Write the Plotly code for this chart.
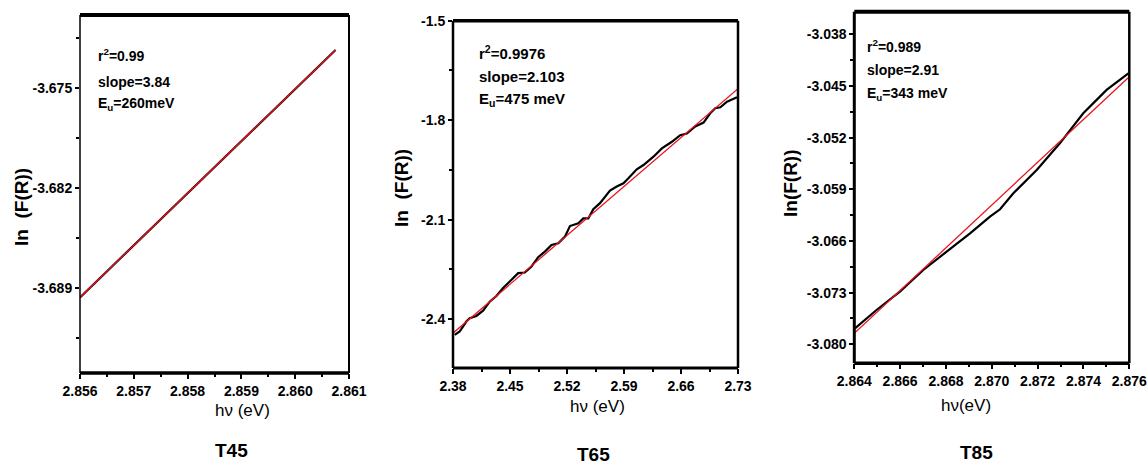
import plotly.graph_objects as go

W, H = 1148, 476

# ---------------- data ----------------
# T45
t45_x = [2.8560, 2.86075]
t45_y = [-3.68968, -3.67236]
t45_fit_x = [2.8560, 2.86075]
t45_fit_y = [-3.68968, -3.67236]

# T65
t65_x = [2.3821, 2.3882, 2.3964, 2.4005, 2.4087, 2.4169, 2.4251, 2.4333, 2.4415, 2.4498,
         2.4600, 2.4682, 2.4764, 2.4846, 2.4928, 2.5010, 2.5093, 2.5175, 2.5236, 2.5339,
         2.5400, 2.5462, 2.5523, 2.5605, 2.5728, 2.5811, 2.5893, 2.5954, 2.6057, 2.6139,
         2.6262, 2.6365, 2.6488, 2.6590, 2.6672, 2.6775, 2.6877, 2.6959, 2.7021, 2.7083,
         2.7165, 2.7288]
t65_y = [-2.447, -2.437, -2.407, -2.397, -2.390, -2.374, -2.347, -2.330, -2.306, -2.286,
         -2.261, -2.259, -2.241, -2.213, -2.196, -2.176, -2.171, -2.151, -2.119, -2.111,
         -2.096, -2.096, -2.068, -2.050, -2.012, -2.000, -1.990, -1.975, -1.948, -1.935,
         -1.910, -1.885, -1.865, -1.845, -1.840, -1.819, -1.807, -1.779, -1.764, -1.761,
         -1.744, -1.731]
t65_fit_x = [2.38, 2.73]
t65_fit_y = [-2.442, -1.705]

# T85
t85_x = [2.86403, 2.86497, 2.86599, 2.86701, 2.86803, 2.86905, 2.86992, 2.87036, 2.87094,
         2.87196, 2.87297, 2.87399, 2.87501, 2.87596]
t85_y = [-3.07783, -3.07535, -3.07286, -3.06993, -3.06744, -3.06496, -3.06270, -3.06171,
         -3.05954, -3.05638, -3.05277, -3.04870, -3.04554, -3.04328]
t85_fit_x = [2.8640, 2.8760]
t85_fit_y = [-3.07851, -3.04374]

# axes ticks
t45_xticks = [2.856, 2.857, 2.858, 2.859, 2.860, 2.861]
t45_yticks = [-3.675, -3.682, -3.689]
t65_xticks = [2.38, 2.45, 2.52, 2.59, 2.66, 2.73]
t65_yticks = [-1.5, -1.8, -2.1, -2.4]
t85_xticks = [2.864, 2.866, 2.868, 2.870, 2.872, 2.874, 2.876]
t85_yticks = [-3.038, -3.045, -3.052, -3.059, -3.066, -3.073, -3.080]

labels = ["T45", "T65", "T85"]
stats = [
    ["r<sup>2</sup>=0.99", "slope=3.84", "E<sub>u</sub>=260meV"],
    ["r<sup>2</sup>=0.9976", "slope=2.103", "E<sub>u</sub>=475 meV"],
    ["r<sup>2</sup>=0.989", "slope=2.91", "E<sub>u</sub>=343 meV"],
]
xtitles = ["hν (eV)", "hν (eV)", "hν(eV)"]
ytitles = ["ln  (F(R))", "ln  (F(R))", "ln(F(R))"]

# ---------------- layout helpers ----------------
def px(x):
    return x / W

def py(y):
    return 1 - y / H

FONT = "Liberation Sans, Arial, sans-serif"

fig = go.Figure()

panels = [
    dict(xs=t45_x, ys=t45_y, fx=t45_fit_x, fy=t45_fit_y,
         frame=(80, 349, 15, 373), xr=[2.856, 2.861], yr=[-3.69497, -3.66991],
         xt=t45_xticks, yt=t45_yticks, xfmt="%.3f", yfmt="%.3f",
         xminor=0.0005, x0=2.856, yminor=0.0035, y0=-3.675,
         border=dict(top=4, bottom=3.5, left=1.5, right=2),
         stat_pos=(96, [55, 82, 104]), stat_size=14,
         ytitle_pos=(21, 207), xtitle_pos=(213, 422), title_pos=(213, 463)),
    dict(xs=t65_x, ys=t65_y, fx=t65_fit_x, fy=t65_fit_y,
         frame=(453, 738, 20.7, 368), xr=[2.38, 2.73], yr=[-2.547, -1.5],
         xt=t65_xticks, yt=t65_yticks, xfmt="%.2f", yfmt="%.1f",
         xminor=0.035, x0=2.38, yminor=0.15, y0=-1.5,
         border=dict(top=3.5, bottom=3, left=2.5, right=2.5),
         stat_pos=(477, [52, 77, 99]), stat_size=15,
         ytitle_pos=(402, 188), xtitle_pos=(597, 418), title_pos=(593, 467)),
    dict(xs=t85_x, ys=t85_y, fx=t85_fit_x, fy=t85_fit_y,
         frame=(854.3, 1129.3, 11.7, 363.3), xr=[2.864, 2.876], yr=[-3.08257, -3.03494],
         xt=t85_xticks, yt=t85_yticks, xfmt="%.3f", yfmt="%.3f",
         xminor=0.001, x0=2.864, yminor=0.0035, y0=-3.038,
         border=dict(top=4, bottom=3.5, left=3, right=2.5),
         stat_pos=(865, [46, 70, 94]), stat_size=14,
         ytitle_pos=(791, 183), xtitle_pos=(993, 417), title_pos=(995, 465)),
]

annotations = []
shapes = []
for i, p in enumerate(panels, start=1):
    xa = "x" if i == 1 else f"x{i}"
    ya = "y" if i == 1 else f"y{i}"
    fig.add_trace(go.Scatter(x=p["xs"], y=p["ys"], mode="lines",
                             line=dict(color="black", width=2.2),
                             xaxis=xa, yaxis=ya, showlegend=False, hoverinfo="skip"))
    fig.add_trace(go.Scatter(x=p["fx"], y=p["fy"], mode="lines",
                             line=dict(color="#e8141c", width=1.3),
                             xaxis=xa, yaxis=ya, showlegend=False, hoverinfo="skip"))
    l, r, t, b = p["frame"]
    common = dict(showgrid=False, zeroline=False, showline=False, automargin=False,
                  ticks="outside", ticklen=5, tickwidth=2, tickcolor="black",
                  tickfont=dict(family=FONT, size=14, color="black", weight="bold"))
    xaxis = dict(common, domain=[px(l), px(r)], range=p["xr"], anchor=ya,
                 tickvals=p["xt"], ticktext=[p["xfmt"] % v for v in p["xt"]],
                 minor=dict(ticks="outside", ticklen=3, tickwidth=2, tickcolor="black",
                            dtick=p["xminor"], tick0=p["x0"]))
    yaxis = dict(common, domain=[py(b), py(t)], range=p["yr"], anchor=xa,
                 tickvals=p["yt"], ticktext=[p["yfmt"] % v for v in p["yt"]],
                 ticklen=4,
                 minor=dict(ticks="outside", ticklen=3, tickwidth=2, tickcolor="black",
                            dtick=p["yminor"], tick0=p["y0"]))
    key = "" if i == 1 else str(i)
    fig.update_layout(**{f"xaxis{key}": xaxis, f"yaxis{key}": yaxis})

    bd = p["border"]
    for (x0, y0, x1, y1, w) in [(l, t, r, t, bd["top"]), (l, b, r, b, bd["bottom"]),
                                (l, t, l, b, bd["left"]), (r, t, r, b, bd["right"])]:
        shapes.append(dict(type="line", xref="paper", yref="paper",
                           x0=px(x0), y0=py(y0), x1=px(x1), y1=py(y1),
                           line=dict(color="black", width=w), layer="above"))

    sx, sys_ = p["stat_pos"]
    for txt, yy in zip(stats[i - 1], sys_):
        annotations.append(dict(text=txt, xref="paper", yref="paper",
                                x=px(sx), y=py(yy), xanchor="left", yanchor="middle",
                                showarrow=False,
                                font=dict(family=FONT, size=p["stat_size"], color="black",
                                          weight="bold")))
    annotations.append(dict(text=ytitles[i - 1], xref="paper", yref="paper",
                            x=px(p["ytitle_pos"][0]), y=py(p["ytitle_pos"][1]),
                            xanchor="center", yanchor="middle",
                            textangle=-90, showarrow=False,
                            font=dict(family=FONT, size=19, color="black", weight="bold")))
    annotations.append(dict(text=xtitles[i - 1], xref="paper", yref="paper",
                            x=px(p["xtitle_pos"][0]), y=py(p["xtitle_pos"][1]),
                            showarrow=False,
                            font=dict(family=FONT, size=17, color="black")))
    annotations.append(dict(text=labels[i - 1], xref="paper", yref="paper",
                            x=px(p["title_pos"][0]), y=py(p["title_pos"][1]),
                            showarrow=False,
                            font=dict(family=FONT, size=19, color="black", weight="bold")))

fig.update_layout(width=W, height=H, margin=dict(l=0, r=0, t=0, b=0, autoexpand=False),
                  paper_bgcolor="white", plot_bgcolor="white",
                  annotations=annotations, shapes=shapes, showlegend=False)

fig.write_html("out.html", config={"displayModeBar": False},
               post_script="document.body.style.margin='0px';document.body.style.padding='0px';")
